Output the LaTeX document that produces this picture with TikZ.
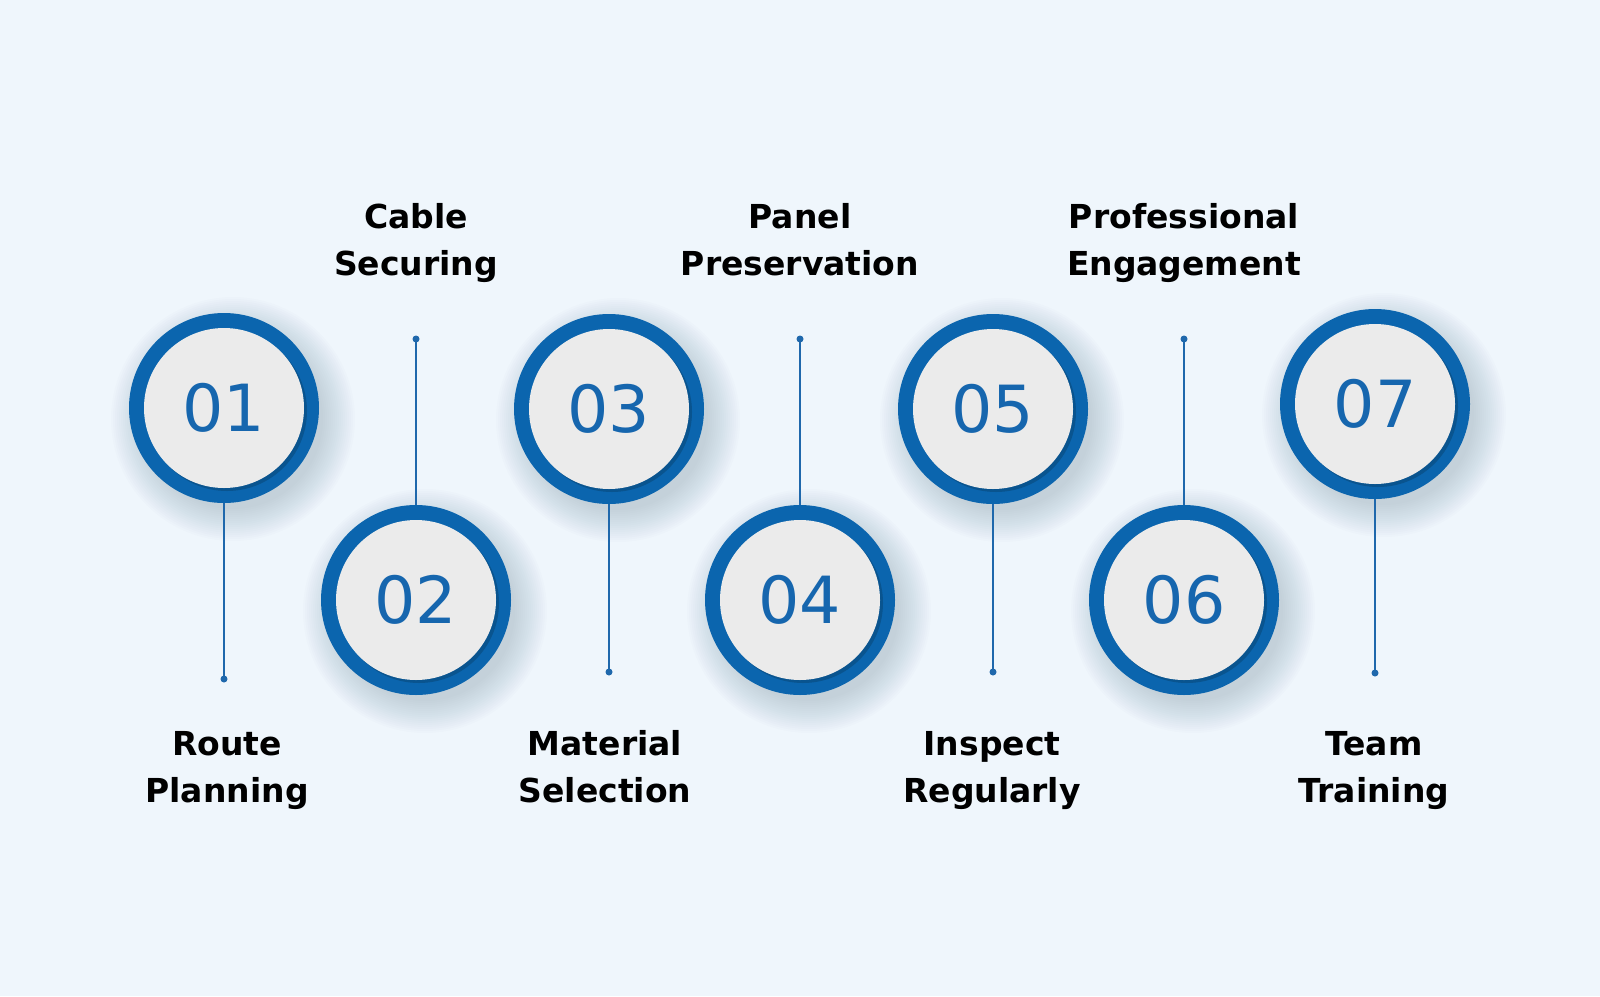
\documentclass[tikz,border=0pt]{standalone}
\usepackage{fontspec}
\setmainfont{DejaVu Sans}
\usetikzlibrary{calc}
\definecolor{bg}{HTML}{EFF6FC}
\definecolor{ring}{HTML}{0B65AE}
\definecolor{ringdark}{HTML}{09548F}
\definecolor{inner}{HTML}{EBEBEB}
\definecolor{num}{HTML}{1666AE}
\definecolor{conn}{HTML}{1F68AC}
\definecolor{shade}{HTML}{2A4460}
\begin{document}
\begin{tikzpicture}[x=1pt,y=-1pt,
  ringc/.style={circle, fill=ring, minimum size=190pt, inner sep=0pt},
  innershade/.style={circle, fill=ringdark, minimum size=160pt, inner sep=0pt},
  innerc/.style={circle, fill=inner, minimum size=160pt, inner sep=0pt,
    font=\fontsize{65}{65}\selectfont, text=num},
  shadowc/.style={fill=shade, opacity=0.010},
  conline/.style={draw=conn, line width=1.5pt},
  condot/.style={fill=conn},
  lab/.style={align=center, font=\fontsize{33}{46.5}\selectfont\bfseries, text=black, inner sep=0pt}
]
\fill[bg] (0,0) rectangle (1600,996);
\useasboundingbox (0,0) rectangle (1600,996);

% circles
\foreach \i/\x/\y in {1/224/408, 2/416/600, 3/609/409, 4/800/600, 5/993/409, 6/1184/600, 7/1375/404}{
  \foreach \k in {0,...,16}{
    \fill[shadowc] (\x+9,\y+11) circle ({90+2*\k});
  }
  \node[ringc] (r\i) at (\x,\y) {};
  \node[innershade] (s\i) at (\x+3,\y+3) {};
  \node[innerc] (c\i) at (\x,\y) {0\i};
}

% connector end points
\coordinate (d1) at (224,679);
\coordinate (d2) at (416,339);
\coordinate (d3) at (609,672);
\coordinate (d4) at (800,339);
\coordinate (d5) at (993,672);
\coordinate (d6) at (1184,339);
\coordinate (d7) at (1375,673);

\foreach \i in {1,...,7}{
  \draw[conline] (r\i) -- (d\i);
  \fill[condot] (d\i) circle (3.5pt);
}

% labels (base anchor = baseline of the last line)
\node[lab, anchor=base] (t2) at (416,275) {Cable\\Securing};
\node[lab, anchor=base] (t4) at (800,275) {Panel\\Preservation};
\node[lab, anchor=base] (t6) at (1184,275) {Professional\\Engagement};
\node[lab, anchor=base] (t1) at (227,802) {Route\\Planning};
\node[lab, anchor=base] (t3) at (605,802) {Material\\Selection};
\node[lab, anchor=base] (t5) at (992,802) {Inspect\\Regularly};
\node[lab, anchor=base] (t7) at (1374,802) {Team\\Training};
\end{tikzpicture}
\end{document}
